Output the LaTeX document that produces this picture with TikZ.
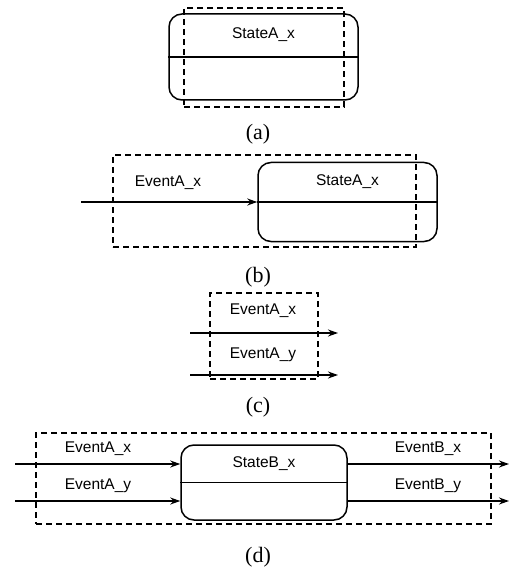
\documentclass[tikz,border=0pt]{standalone}
\usepackage{fontspec}
\setmainfont{Liberation Serif}
\setsansfont{Liberation Sans}
\usetikzlibrary{arrows.meta, positioning, calc}

\begin{document}
\begin{tikzpicture}[
    x=1pt, y=-1pt,
    state/.style={draw, rounded corners=13pt, line width=1.5pt, inner sep=0pt},
    dbox/.style={draw, dashed, dash pattern=on 6pt off 4pt, line width=1.3pt, inner sep=0pt},
    lbl/.style={font=\sffamily\fontsize{15.5}{18}\selectfont, inner sep=0pt},
    captext/.style={font=\fontsize{22}{26}\selectfont, inner sep=0pt},
    arr/.style={-{Stealth[length=10pt, width=7pt]}, line width=1.5pt},
    divline/.style={line width=1.5pt}
]
\useasboundingbox (0,0) rectangle (509,572);

\node[state, minimum width=189pt, minimum height=86pt] (sa) at (263.5,57) {};
\draw[divline] (sa.west) -- (sa.east);
\node[lbl] (sat) at ($(sa.north)!.5!(sa.center)$) {StateA\_x};
\node[dbox, minimum width=160pt, minimum height=99pt] (da) at (264,57.5) {};
\node[captext] (capa) at (258,134) {(a)};

\node[state, minimum width=179pt, minimum height=79pt] (sb) at (347.5,202) {};
\node[lbl] (sbt) at ($(sb.north)!.5!(sb.center)$) {StateA\_x};
\node[dbox, minimum width=303pt, minimum height=92pt] (db) at (264.5,201) {};
\coordinate (inb) at (81,202);
\draw[arr] (inb) -- (sb.west);
\draw[divline] (sb.west) -- (sb.east);
\node[lbl] (evb) at (168,183) {EventA\_x};
\node[captext] (capb) at (258,277) {(b)};

\node[dbox, minimum width=108pt, minimum height=86pt] (dc) at (264,336) {};
\coordinate (inc1) at (190,333);
\coordinate (outc1) at (338,333);
\coordinate (inc2) at (190,375);
\coordinate (outc2) at (338,375);
\draw[arr] (inc1) -- (outc1);
\draw[arr] (inc2) -- (outc2);
\node[lbl] (evc1) at (263,311) {EventA\_x};
\node[lbl] (evc2) at (263,355) {EventA\_y};
\node[captext] (capc) at (258,407) {(c)};

\node[state, minimum width=166pt, minimum height=75pt] (sd) at (264,482.5) {};
\draw[divline] (sd.west) -- (sd.east);
\node[lbl] (sdt) at ($(sd.north)!.5!(sd.center)$) {StateB\_x};
\node[dbox, minimum width=455pt, minimum height=91pt] (dd) at (263.5,478.5) {};
\coordinate (ind1) at (15,464);
\coordinate (ind2) at (15,501);
\coordinate (outd1) at (509,464);
\coordinate (outd2) at (509,501);
\draw[arr] (ind1) -- (sd.west |- ind1);
\draw[arr] (ind2) -- (sd.west |- ind2);
\draw[arr] (sd.east |- outd1) -- (outd1);
\draw[arr] (sd.east |- outd2) -- (outd2);
\node[lbl] (evd1) at (98,449) {EventA\_x};
\node[lbl] (evd2) at (98,486) {EventA\_y};
\node[lbl] (evd3) at (428,449) {EventB\_x};
\node[lbl] (evd4) at (428,486) {EventB\_y};
\node[captext] (capd) at (258,557) {(d)};
\end{tikzpicture}
\end{document}
